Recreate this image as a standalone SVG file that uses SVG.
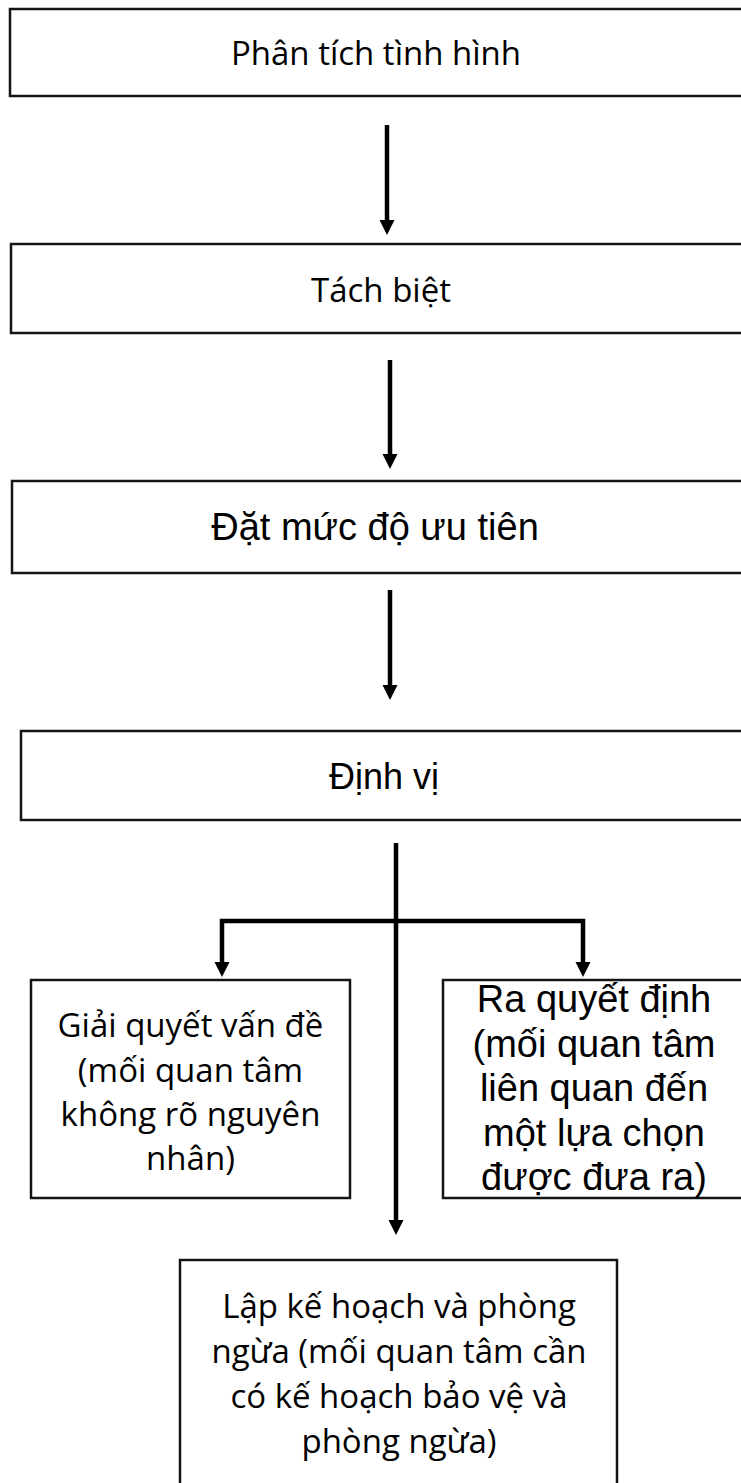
<svg xmlns="http://www.w3.org/2000/svg" width="741" height="1483" viewBox="0 0 741 1483">
  <defs>
    <style>
      .box { fill: #ffffff; stroke: #141414; stroke-width: 2.5; }
      .cal { font-family: "Open Sans", "Noto Sans", sans-serif; font-size: 33px; fill: #000; text-anchor: middle; }
      .ari { font-family: "Liberation Sans", Arial, sans-serif; font-size: 38px; fill: #000; text-anchor: middle; }
      .line { fill: none; stroke: #000; stroke-width: 4.5; }
      .head { fill: #000; }
    </style>
  </defs>
  <rect width="741" height="1483" fill="#ffffff"/>

  <!-- steps -->
  <g id="phan-tich">
    <rect class="box" x="10" y="9" width="760" height="87"/>
    <text class="cal" x="376" y="65">Phân tích tình hình</text>
  </g>
  <g id="tach-biet">
    <rect class="box" x="11" y="244" width="760" height="89"/>
    <text class="cal" x="381" y="302">Tách biệt</text>
  </g>
  <g id="uu-tien">
    <rect class="box" x="12" y="481" width="760" height="92"/>
    <text class="ari" x="375" y="540">Đặt mức độ ưu tiên</text>
  </g>
  <g id="dinh-vi">
    <rect class="box" x="21" y="731" width="760" height="89"/>
    <text class="ari" x="384" y="789" style="font-size:36px">Định vị</text>
  </g>
  <g id="giai-quyet">
    <rect class="box" x="31" y="980" width="319" height="218"/>
    <text class="cal" x="190.5" y="1037">Giải quyết vấn đề</text>
    <text class="cal" x="190.5" y="1082">(mối quan tâm</text>
    <text class="cal" x="190.5" y="1126">không rõ nguyên</text>
    <text class="cal" x="190.5" y="1170">nhân)</text>
  </g>
  <g id="ra-quyet-dinh">
    <rect class="box" x="443" y="980" width="310" height="218"/>
    <text class="ari" x="594" y="1012">Ra quyết định</text>
    <text class="ari" x="594" y="1057">(mối quan tâm</text>
    <text class="ari" x="594" y="1101">liên quan đến</text>
    <text class="ari" x="594" y="1146">một lựa chọn</text>
    <text class="ari" x="594" y="1190">được đưa ra)</text>
  </g>
  <g id="lap-ke-hoach">
    <rect class="box" x="180" y="1260" width="437" height="240"/>
    <text class="cal" x="399" y="1318">Lập kế hoạch và phòng</text>
    <text class="cal" x="399" y="1363">ngừa (mối quan tâm cần</text>
    <text class="cal" x="399" y="1408">có kế hoạch bảo vệ và</text>
    <text class="cal" x="399" y="1453">phòng ngừa)</text>
  </g>

  <!-- connectors -->
  <g id="connectors">
    <path class="line" d="M387 125 V222"/>
    <polygon class="head" points="379.5,220 394.5,220 387,235"/>
    <path class="line" d="M390 360 V456"/>
    <polygon class="head" points="382.5,454 397.5,454 390,469"/>
    <path class="line" d="M390 590 V687"/>
    <polygon class="head" points="382.5,685 397.5,685 390,700"/>

    <path class="line" d="M396 843 V1222"/>
    <polygon class="head" points="388.5,1220 403.5,1220 396,1235"/>
    <path class="line" d="M222 964 V921 H583 V964"/>
    <polygon class="head" points="214.5,962 229.5,962 222,977"/>
    <polygon class="head" points="575.5,962 590.5,962 583,977"/>
  </g>
</svg>
